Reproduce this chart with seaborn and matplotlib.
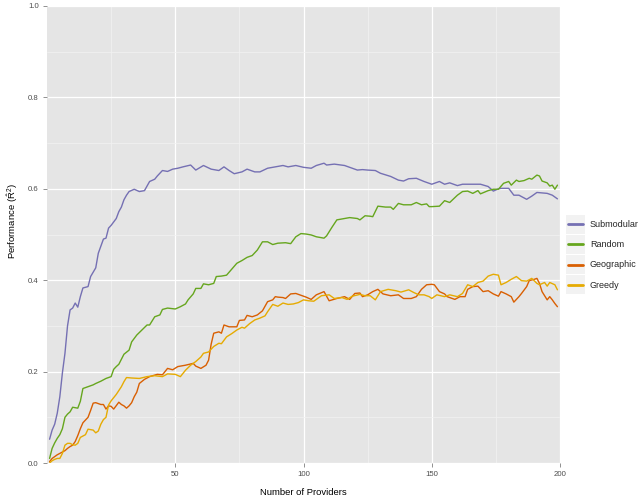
import pandas as pd
import numpy as np
import matplotlib
matplotlib.use("Agg")
import matplotlib.pyplot as plt
import seaborn as sns
from matplotlib.patches import Rectangle
from matplotlib.lines import Line2D
from matplotlib.legend_handler import HandlerBase

# values
sub_x = [1, 2, 3, 4, 5, 6, 7, 8, 9, 10, 11, 12, 13, 14, 16, 17, 19, 20, 22, 23, 24, 25, 27, 28, 29, 30,
         31, 32, 34, 36, 38, 40, 42, 43, 45, 47, 49, 51, 53, 56, 58, 61, 64, 67, 69, 71, 73, 76, 78, 81,
         83, 86, 89, 92, 94, 97, 100, 103, 105, 108, 109, 112, 116, 119, 121, 123, 125, 128, 130, 134,
         137, 139, 141, 144, 147, 150, 153, 155, 157, 160, 162, 166, 169, 172, 174, 176, 177, 180, 182,
         184, 187, 189, 191, 193, 195, 197, 199]
sub_y = [0.052, 0.072, 0.085, 0.109, 0.145, 0.197, 0.24, 0.30, 0.335, 0.339, 0.35, 0.341, 0.364, 0.383,
         0.386, 0.408, 0.427, 0.459, 0.49, 0.492, 0.514, 0.52, 0.535, 0.55, 0.56, 0.576, 0.586, 0.594,
         0.599, 0.594, 0.596, 0.616, 0.621, 0.628, 0.640, 0.638, 0.643, 0.645, 0.648, 0.652, 0.641,
         0.651, 0.643, 0.640, 0.648, 0.640, 0.633, 0.637, 0.643, 0.637, 0.637, 0.645, 0.648, 0.651,
         0.648, 0.651, 0.647, 0.645, 0.651, 0.656, 0.652, 0.654, 0.651, 0.645, 0.641, 0.642, 0.641,
         0.640, 0.634, 0.627, 0.619, 0.617, 0.622, 0.623, 0.616, 0.610, 0.616, 0.610, 0.613, 0.607,
         0.610, 0.610, 0.610, 0.605, 0.595, 0.600, 0.601, 0.601, 0.586, 0.586, 0.577, 0.584, 0.592,
         0.591, 0.590, 0.586, 0.578]

rand_x = [1, 2, 3, 4, 5, 6, 7, 8, 9, 10, 12, 13, 14, 16, 18, 19, 21, 23, 25, 26, 27, 28, 30, 32, 33, 35,
          37, 39, 40, 42, 44, 45, 47, 50, 52, 54, 55, 57, 58, 60, 61, 63, 65, 66, 68, 70, 72, 74, 76, 78,
          80, 82, 84, 86, 88, 90, 93, 95, 97, 99, 101, 103, 105, 108, 109, 111, 113, 116, 118, 121, 122,
          124, 126, 127, 129, 132, 134, 135, 137, 139, 142, 144, 146, 148, 149, 150, 153, 155, 157, 160,
          162, 164, 166, 168, 169, 172, 174, 176, 178, 180, 181, 183, 184, 186, 188, 189, 191, 192, 193,
          195, 196, 197, 198, 199]
rand_y = [0.01, 0.032, 0.044, 0.054, 0.062, 0.075, 0.10, 0.107, 0.112, 0.122, 0.12, 0.135, 0.163, 0.167,
          0.171, 0.174, 0.179, 0.185, 0.189, 0.205, 0.211, 0.216, 0.238, 0.247, 0.265, 0.280, 0.291,
          0.302, 0.302, 0.320, 0.324, 0.336, 0.339, 0.337, 0.342, 0.348, 0.357, 0.37, 0.382, 0.382,
          0.392, 0.39, 0.393, 0.408, 0.409, 0.411, 0.424, 0.437, 0.443, 0.450, 0.454, 0.466, 0.484,
          0.484, 0.478, 0.481, 0.482, 0.480, 0.495, 0.502, 0.501, 0.499, 0.495, 0.492, 0.497, 0.515,
          0.532, 0.535, 0.537, 0.535, 0.532, 0.541, 0.540, 0.539, 0.562, 0.560, 0.560, 0.555, 0.568,
          0.565, 0.565, 0.570, 0.565, 0.567, 0.561, 0.561, 0.562, 0.574, 0.570, 0.586, 0.594, 0.595,
          0.590, 0.596, 0.589, 0.596, 0.599, 0.599, 0.612, 0.616, 0.608, 0.619, 0.616, 0.618, 0.623,
          0.621, 0.630, 0.628, 0.617, 0.613, 0.606, 0.608, 0.599, 0.608]

geo_x = [1, 2, 3, 4, 5, 7, 8, 9, 10, 11, 12, 13, 14, 16, 17, 18, 19, 21, 22, 23, 24, 25, 26, 28, 29, 30,
         31, 32, 33, 34, 35, 36, 38, 40, 43, 45, 47, 49, 51, 54, 57, 58, 60, 62, 63, 64, 65, 67, 68, 69,
         71, 74, 75, 77, 78, 80, 82, 84, 86, 88, 89, 90, 92, 93, 95, 97, 99, 101, 103, 105, 108, 110,
         113, 116, 118, 120, 122, 123, 125, 127, 129, 131, 134, 137, 139, 142, 144, 146, 148, 150, 151,
         153, 155, 156, 159, 161, 163, 164, 166, 168, 170, 172, 174, 176, 177, 179, 181, 182, 184, 185,
         187, 188, 190, 191, 192, 193, 195, 196, 197, 198, 199]
geo_y = [0.003, 0.010, 0.014, 0.018, 0.021, 0.027, 0.032, 0.036, 0.039, 0.047, 0.06, 0.075, 0.088, 0.10,
         0.115, 0.131, 0.132, 0.128, 0.128, 0.118, 0.125, 0.124, 0.118, 0.133, 0.128, 0.125, 0.12, 0.125,
         0.132, 0.145, 0.155, 0.174, 0.183, 0.189, 0.194, 0.193, 0.207, 0.204, 0.211, 0.214, 0.218,
         0.212, 0.207, 0.214, 0.225, 0.26, 0.284, 0.287, 0.284, 0.302, 0.298, 0.298, 0.312, 0.313,
         0.323, 0.320, 0.324, 0.333, 0.353, 0.357, 0.364, 0.363, 0.362, 0.360, 0.370, 0.371, 0.367,
         0.363, 0.358, 0.368, 0.375, 0.355, 0.360, 0.364, 0.358, 0.371, 0.372, 0.364, 0.368, 0.375,
         0.380, 0.370, 0.366, 0.368, 0.360, 0.360, 0.364, 0.380, 0.390, 0.391, 0.390, 0.375, 0.370,
         0.364, 0.358, 0.364, 0.364, 0.38, 0.386, 0.387, 0.375, 0.377, 0.370, 0.365, 0.375, 0.370,
         0.364, 0.352, 0.364, 0.371, 0.386, 0.399, 0.402, 0.404, 0.393, 0.375, 0.357, 0.364, 0.357,
         0.349, 0.342]

gre_x = [1, 2, 3, 4, 5, 6, 7, 8, 9, 10, 11, 12, 13, 15, 16, 18, 19, 20, 21, 22, 23, 24, 25, 27, 29, 30,
         31, 33, 36, 39, 42, 45, 47, 50, 52, 54, 56, 58, 60, 61, 63, 65, 67, 68, 70, 72, 74, 76, 77, 79,
         81, 83, 85, 86, 88, 90, 92, 94, 96, 98, 100, 102, 104, 107, 110, 112, 115, 117, 119, 122, 124,
         126, 128, 130, 133, 136, 138, 141, 143, 145, 147, 149, 150, 152, 155, 157, 160, 162, 164, 166,
         168, 170, 172, 174, 176, 177, 179, 181, 183, 185, 187, 189, 191, 192, 194, 195, 196, 198, 199]
gre_y = [0.0, 0.005, 0.008, 0.01, 0.01, 0.021, 0.039, 0.043, 0.043, 0.04, 0.039, 0.043, 0.056, 0.062,
         0.074, 0.072, 0.066, 0.070, 0.085, 0.095, 0.10, 0.127, 0.136, 0.150, 0.167, 0.178, 0.187,
         0.186, 0.185, 0.189, 0.191, 0.189, 0.195, 0.194, 0.189, 0.203, 0.214, 0.222, 0.232, 0.240,
         0.243, 0.255, 0.262, 0.261, 0.276, 0.283, 0.291, 0.297, 0.295, 0.305, 0.313, 0.317, 0.322,
         0.331, 0.347, 0.343, 0.350, 0.347, 0.348, 0.351, 0.357, 0.355, 0.354, 0.366, 0.368, 0.360,
         0.362, 0.358, 0.365, 0.369, 0.366, 0.366, 0.357, 0.375, 0.380, 0.377, 0.374, 0.379, 0.373,
         0.368, 0.368, 0.364, 0.360, 0.368, 0.364, 0.368, 0.364, 0.371, 0.390, 0.386, 0.395, 0.398,
         0.409, 0.413, 0.411, 0.39, 0.395, 0.402, 0.408, 0.399, 0.398, 0.404, 0.393, 0.39, 0.395,
         0.387, 0.395, 0.39, 0.379]

methods = ["Submodular", "Random", "Geographic", "Greedy"]
colors = ["#7570B3", "#66A61E", "#D95F02", "#E6AB02"]

frames = []
for name, xs, ys in zip(methods, [sub_x, rand_x, geo_x, gre_x], [sub_y, rand_y, geo_y, gre_y]):
    frames.append(pd.DataFrame({"providers": xs, "performance": ys, "method": name}))
df = pd.concat(frames, ignore_index=True)


class KeyHandler(HandlerBase):
    # ggplot-like legend key: grey square with a centred line
    def create_artists(self, legend, orig_handle, xdescent, ydescent, width, height, fontsize, trans):
        bg = Rectangle((-xdescent, -ydescent), width, height, facecolor="#F2F2F2",
                       edgecolor="none", transform=trans)
        y = -ydescent + height / 2
        ln = Line2D([-xdescent + 1.2, -xdescent + width - 1.2], [y, y],
                    color=orig_handle.get_color(), linewidth=2.0, transform=trans)
        return [bg, ln]


sns.set_style("darkgrid", {"axes.facecolor": "#E5E5E5", "grid.color": "white"})
plt.rcParams["font.family"] = ["Liberation Sans", "DejaVu Sans"]
plt.rcParams["mathtext.fontset"] = "custom"
plt.rcParams["mathtext.rm"] = "Liberation Sans"
plt.rcParams["mathtext.it"] = "Liberation Sans:italic"

fig = plt.figure(figsize=(6.42, 5.01), dpi=100)
ax = fig.add_axes([47 / 642, 38 / 501, 513 / 642, 457 / 501])

sns.lineplot(data=df, x="providers", y="performance", hue="method", hue_order=methods,
             palette=colors, estimator=None, linewidth=1.0, legend=False, ax=ax)

ax.set_xlim(0, 200)
ax.set_ylim(0, 1)
ax.set_xticks([50, 100, 150, 200])
ax.set_yticks([0.0, 0.2, 0.4, 0.6, 0.8, 1.0])
ax.set_yticklabels(["0.0", "0.2", "0.4", "0.6", "0.8", "1.0"])
ax.set_xticks([25, 75, 125, 175], minor=True)
ax.set_yticks([0.1, 0.3, 0.5, 0.7, 0.9], minor=True)
ax.grid(which="major", color="white", linewidth=0.9)
ax.grid(which="minor", color="#F2F2F2", linewidth=0.5)
for s in ax.spines.values():
    s.set_visible(False)
ax.tick_params(which="major", length=3, width=0.6, color="#7F7F7F", labelsize=5.6,
               labelcolor="#4D4D4D", pad=3, bottom=True, left=True)
ax.tick_params(which="minor", length=0)

ax.set_xlabel("Number of Providers", fontsize=6.8, color="black")
ax.set_ylabel(r"Performance ($\hat{\mathrm{R}}^2$)", fontsize=6.8, color="black")
ax.xaxis.set_label_coords(0.5, -0.055)
ax.yaxis.set_label_coords(-0.053, 0.53)

handles = [Line2D([], [], color=c) for c in colors]
fig.legend(handles, methods, handler_map={Line2D: KeyHandler()},
           loc="center left", bbox_to_anchor=(566 / 642, 1 - 254.5 / 501), frameon=False,
           fontsize=6.5, handlelength=2.1, handleheight=2.86, labelspacing=0.14,
           handletextpad=0.55, borderpad=0, borderaxespad=0)

fig.savefig("out.png", dpi=100)
